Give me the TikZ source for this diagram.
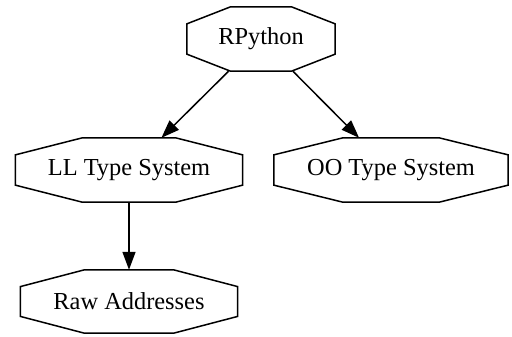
\documentclass[tikz,border=0pt]{standalone}
\usepackage{fontspec}
\setmainfont{Liberation Serif}
\usetikzlibrary{calc,arrows.meta}

% Outline an octagon inside the rectangle of a node
\newcommand\octagonframe[1]{%
  \draw[frame]
    ($(#1.north west)!0.295!(#1.north east)$) --
    ($(#1.north west)!0.705!(#1.north east)$) --
    ($(#1.north east)!0.265!(#1.south east)$) --
    ($(#1.north east)!0.735!(#1.south east)$) --
    ($(#1.south west)!0.705!(#1.south east)$) --
    ($(#1.south west)!0.295!(#1.south east)$) --
    ($(#1.north west)!0.735!(#1.south west)$) --
    ($(#1.north west)!0.265!(#1.south west)$) -- cycle;}

\tikzset{
  frame/.style={line width=1.5bp, line join=miter, black},
  octbox/.style={rectangle, inner sep=0pt, minimum height=64bp,
    font=\fontsize{24.4bp}{29bp}\selectfont},
  edge/.style={line width=1.5bp, -{Triangle[length=18bp,width=13bp]}},
}

\begin{document}
\begin{tikzpicture}[x=1bp, y=-1bp]
  \useasboundingbox (0,0) rectangle (512,336);

  \node[octbox, minimum width=148bp] (rp)  at (261,39)  {RPython};
  \node[octbox, minimum width=227bp] (ll)  at (129,170) {LL Type System};
  \node[octbox, minimum width=234bp] (oo)  at (391,170) {OO Type System};
  \node[octbox, minimum width=217bp, minimum height=63bp] (raw) at (129,301.5) {Raw Addresses};

  \octagonframe{rp}
  \octagonframe{ll}
  \octagonframe{oo}
  \octagonframe{raw}

  \draw[edge] (rp) -- (ll);
  \draw[edge] (rp) -- (oo);
  \draw[edge] (ll) -- (raw);
\end{tikzpicture}
\end{document}
